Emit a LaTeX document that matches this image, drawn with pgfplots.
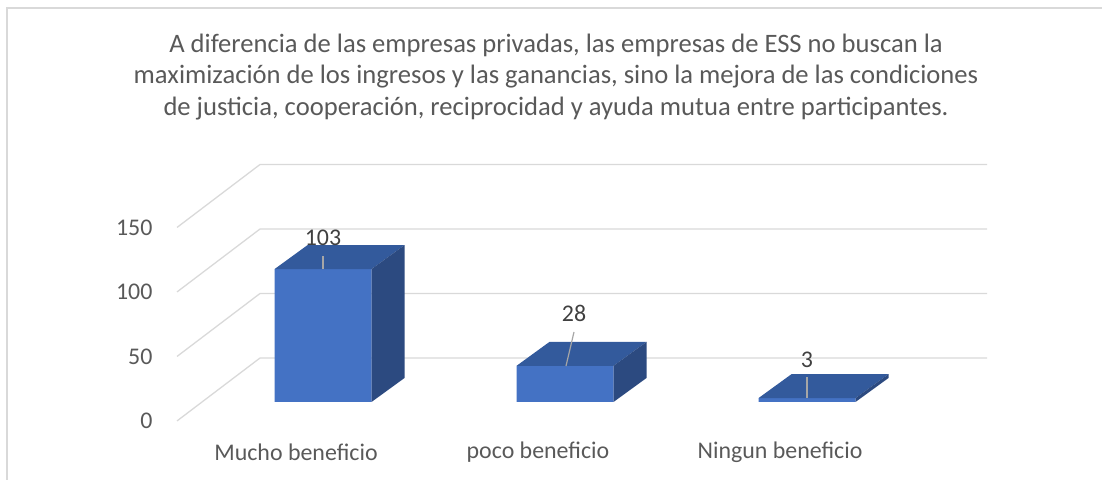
\documentclass[border=0pt]{standalone}
\usepackage{pgfplots}
\pgfplotsset{compat=1.18}
\usepackage{pgfplotstable}
\usepackage{fontspec}
\setmainfont{Carlito}
\definecolor{front}{HTML}{4472C4}
\definecolor{topc}{HTML}{335A9C}
\definecolor{side}{HTML}{2C4A80}
\definecolor{gridc}{HTML}{D9D9D9}
\definecolor{txt}{HTML}{595959}
\definecolor{lbl}{HTML}{404040}
\definecolor{leader}{HTML}{A6A6A6}
\pgfplotstableread{
x v
323 103
565 28
807 3
}\bars
\begin{document}
\begin{tikzpicture}
\begin{axis}[
  width=1102bp, height=480bp, scale only axis,
  xmin=0, xmax=1102, ymin=-60.47, ymax=311.63,
  axis lines=none, xtick=\empty, ytick=\empty,
  clip=false,
]
% border
\draw[gridc, line width=1.3bp] (axis cs:7,-60.47) -- (axis cs:7,305.4) -- (axis cs:1102,305.4);
% grid lines (floor diagonal + back wall)
\addplot[gridc, line width=1.3bp] coordinates {(177,-14.7) (260,34.1) (987,34.1)};
\addplot[gridc, line width=1.3bp] coordinates {(177,35.3) (260,84.1) (987,84.1)};
\addplot[gridc, line width=1.3bp] coordinates {(177,85.3) (260,134.1) (987,134.1)};
\addplot[gridc, line width=1.3bp] coordinates {(177,135.3) (260,184.1) (987,184.1)};
% front faces
\addplot[ybar, bar width=97, fill=front, draw=none] table[x=x, y=v] {\bars};
% top faces
\addplot[fill=topc, draw=none] coordinates {(274.5,103) (371.5,103) (404.5,121.6) (307.5,121.6)} -- cycle;
\addplot[fill=topc, draw=none] coordinates {(516.5,28) (613.5,28) (646.5,46.6) (549.5,46.6)} -- cycle;
\addplot[fill=topc, draw=none] coordinates {(758.5,3) (855.5,3) (888.5,21.6) (791.5,21.6)} -- cycle;
% side faces
\addplot[fill=side, draw=none] coordinates {(371.5,0) (371.5,103) (404.5,121.6) (404.5,18.6)} -- cycle;
\addplot[fill=side, draw=none] coordinates {(613.5,0) (613.5,28) (646.5,46.6) (646.5,18.6)} -- cycle;
\addplot[fill=side, draw=none] coordinates {(855.5,0) (855.5,3) (888.5,21.6) (888.5,18.6)} -- cycle;
% leader lines
\addplot[leader, line width=1.2bp] coordinates {(323,103) (323,113.2)};
\addplot[leader, line width=1.2bp] coordinates {(566,27.9) (574,54.3)};
\addplot[leader, line width=1.2bp] coordinates {(807,3.1) (807,19.4)};
% data labels
\node[text=lbl, font=\fontsize{24}{28}\selectfont] at (axis cs:323,127.1) {103};
\node[text=lbl, font=\fontsize{24}{28}\selectfont] at (axis cs:574,69) {28};
\node[text=lbl, font=\fontsize{24}{28}\selectfont] at (axis cs:807,32.6) {3};
% y tick labels
\node[text=txt, anchor=east, font=\fontsize{24}{28}\selectfont] at (axis cs:156,-14.7) {0};
\node[text=txt, anchor=east, font=\fontsize{24}{28}\selectfont] at (axis cs:156,35.3) {50};
\node[text=txt, anchor=east, font=\fontsize{24}{28}\selectfont] at (axis cs:156,85.3) {100};
\node[text=txt, anchor=east, font=\fontsize{24}{28}\selectfont] at (axis cs:156,135.3) {150};
% category labels
\node[text=txt, font=\fontsize{24}{28}\selectfont] at (axis cs:296,-38.8) {Mucho beneficio};
\node[text=txt, font=\fontsize{24}{28}\selectfont] at (axis cs:538,-38.8) {poco beneficio};
\node[text=txt, font=\fontsize{24}{28}\selectfont] at (axis cs:780,-38.8) {Ningun beneficio};
% title
\node[text=txt, align=center, font=\fontsize{26.7}{32}\selectfont] at (axis cs:556,251.9)
  {A diferencia de las empresas privadas, las empresas de ESS no buscan la\\
   maximización de los ingresos y las ganancias, sino la mejora de las condiciones\\
   de justicia, cooperación, reciprocidad y ayuda mutua entre participantes.};
\end{axis}
\pgfresetboundingbox
\path (current axis.south west) rectangle (current axis.north east);
\end{tikzpicture}
\end{document}
